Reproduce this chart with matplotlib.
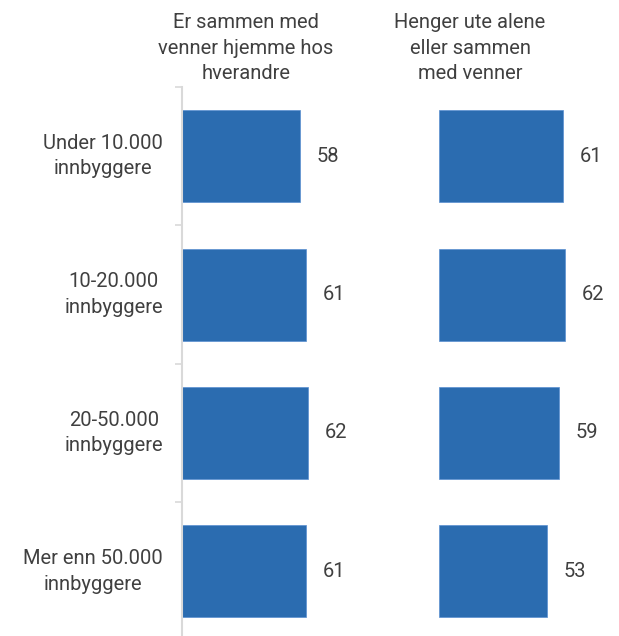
import matplotlib
matplotlib.use('Agg')
import matplotlib.pyplot as plt
import numpy as np

categories = ['Under 10.000\ninnbyggere', '10-20.000\ninnbyggere',
              '20-50.000\ninnbyggere', 'Mer enn 50.000\ninnbyggere']
hjemme = [58, 61, 62, 61]
ute = [61, 62, 59, 53]
titles = ['Er sammen med\nvenner hjemme hos\nhverandre',
          'Henger ute alene\neller sammen\nmed venner']

plt.rcParams['font.family'] = ['Roboto', 'DejaVu Sans']
blue = '#2b6cb0'
txt = '#404040'
grey = '#d9d9d9'
fs = 14.5

W, H = 619, 636
fig = plt.figure(figsize=(W/100, H/100), dpi=100)

xmax = 85
ax_w = xmax*2.04/W
bottom = -4.6/H
height = (640.6-87)/H

y = np.arange(len(categories))
for left, vals, title, tx in [(182, hjemme, titles[0], 246), (439, ute, titles[1], 470)]:
    ax = fig.add_axes([left/W, bottom, ax_w, height])
    ax.barh(y, vals, height=0.665, color=blue, edgecolor='#5a8fd0', linewidth=0.5)
    for yi, v in zip(y, vals):
        ax.text(v + 13.5, yi, str(v), ha='center', va='center', fontsize=fs, color=txt)
    ax.set_xlim(0, xmax)
    ax.set_ylim(len(categories)-0.5, -0.5)
    ax.set_xticks([])
    for s in ['top', 'right', 'bottom']:
        ax.spines[s].set_visible(False)
    if left == 182:
        ax.spines['left'].set_color(grey)
        ax.spines['left'].set_linewidth(1.5)
        ax.set_yticks(np.arange(len(categories)+1)-0.5)
        ax.set_yticklabels([])
        ax.tick_params(axis='y', length=5, width=1.2, color=grey)
        for yi, c in zip(y, categories):
            ax.text(-19/2.04, yi, c, ha='right', va='center', fontsize=fs,
                    color=txt, linespacing=1.42, multialignment='center')
    else:
        ax.spines['left'].set_visible(False)
        ax.set_yticks([])
    fig.text(tx/W, 1-48/H, title, ha='center', va='center', fontsize=fs,
             color=txt, linespacing=1.42)

fig.savefig('out.png', dpi=100)
